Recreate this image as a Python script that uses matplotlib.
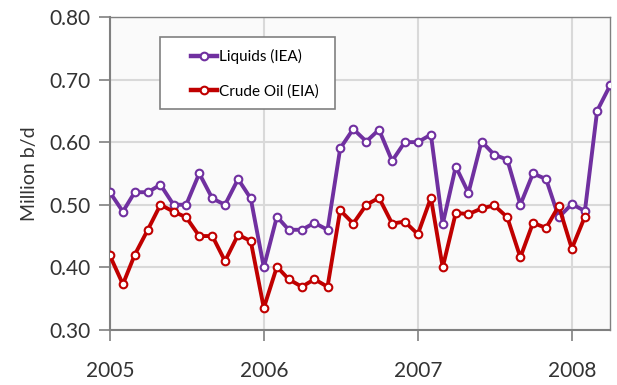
import numpy as np
import pandas as pd
import matplotlib
matplotlib.use("Agg")
import matplotlib.pyplot as plt
import matplotlib.dates as mdates
from matplotlib.patches import Rectangle

plt.rcParams['font.family'] = ['Lato', 'DejaVu Sans']

months = pd.date_range('2005-01-01', periods=40, freq='MS')

liquids = [0.520, 0.489, 0.520, 0.520, 0.532, 0.500, 0.500, 0.550, 0.510, 0.500, 0.541, 0.510,
           0.400, 0.481, 0.460, 0.460, 0.471, 0.460, 0.590, 0.621, 0.601, 0.620, 0.570, 0.600,
           0.600, 0.612, 0.469, 0.561, 0.519, 0.601, 0.580, 0.572, 0.500, 0.550, 0.541, 0.480,
           0.501, 0.490, 0.650, 0.691]
crude = [0.419, 0.373, 0.420, 0.460, 0.500, 0.489, 0.480, 0.450, 0.450, 0.410, 0.452, 0.442,
         0.335, 0.401, 0.381, 0.369, 0.381, 0.369, 0.491, 0.470, 0.500, 0.511, 0.470, 0.473,
         0.453, 0.511, 0.400, 0.487, 0.485, 0.494, 0.499, 0.480, 0.416, 0.471, 0.463, 0.498,
         0.430, 0.481]

purple = '#7030A0'
red = '#C00000'
gray = '#808080'

fig = plt.figure(figsize=(6.17, 3.85), dpi=100)
ax = fig.add_axes([0.178, 0.143, 0.811, 0.813])
ax.set_facecolor('#FAFAFA')

ax.plot(months, liquids, color=purple, lw=2.8, marker='o', ms=5.5,
        mfc='white', mec=purple, mew=1.5, label='Liquids (IEA)', zorder=3)
ax.plot(months[:len(crude)], crude, color=red, lw=2.8, marker='o', ms=5.5,
        mfc='white', mec=red, mew=1.5, label='Crude Oil (EIA)', zorder=3)

ax.set_ylim(0.30, 0.80)
ax.set_yticks(np.arange(0.30, 0.81, 0.10))
ax.yaxis.set_major_formatter(matplotlib.ticker.FormatStrFormatter('%.2f'))
ax.set_xlim(pd.Timestamp('2005-01-01'), pd.Timestamp('2008-04-01'))
ax.xaxis.set_major_locator(mdates.YearLocator())
ax.xaxis.set_major_formatter(mdates.DateFormatter('%Y'))

ax.grid(True, color='#D9D9D9', lw=1.5, zorder=0)
ax.set_axisbelow(True)
for side in ['left', 'bottom', 'top', 'right']:
    ax.spines[side].set_color(gray)
    ax.spines[side].set_linewidth(1.5)
ax.spines['top'].set_linewidth(1.0)
ax.spines['right'].set_linewidth(1.0)

ax.tick_params(axis='both', colors=gray, length=8, width=1.2, labelcolor='#333333',
               labelsize=15)
ax.tick_params(axis='x', pad=14)
ax.tick_params(axis='y', pad=6)
ax.set_ylabel('Million b/d', fontsize=14, color='#333333', labelpad=8)

# legend box drawn by hand so its padding matches the original
ax.add_patch(Rectangle((0.1, 0.706), 0.35, 0.23, transform=ax.transAxes,
                       facecolor='white', edgecolor=gray, lw=1.2, zorder=4))
leg = ax.legend(loc='upper left', bbox_to_anchor=(0.162, 0.897), fontsize=11,
                frameon=False, handlelength=1.7, handletextpad=0.15,
                labelspacing=1.3, borderpad=0, borderaxespad=0)
leg.set_zorder(5)
for h in leg.get_lines():
    h.set_linewidth(3.2)

fig.savefig('out.png', dpi=100)
